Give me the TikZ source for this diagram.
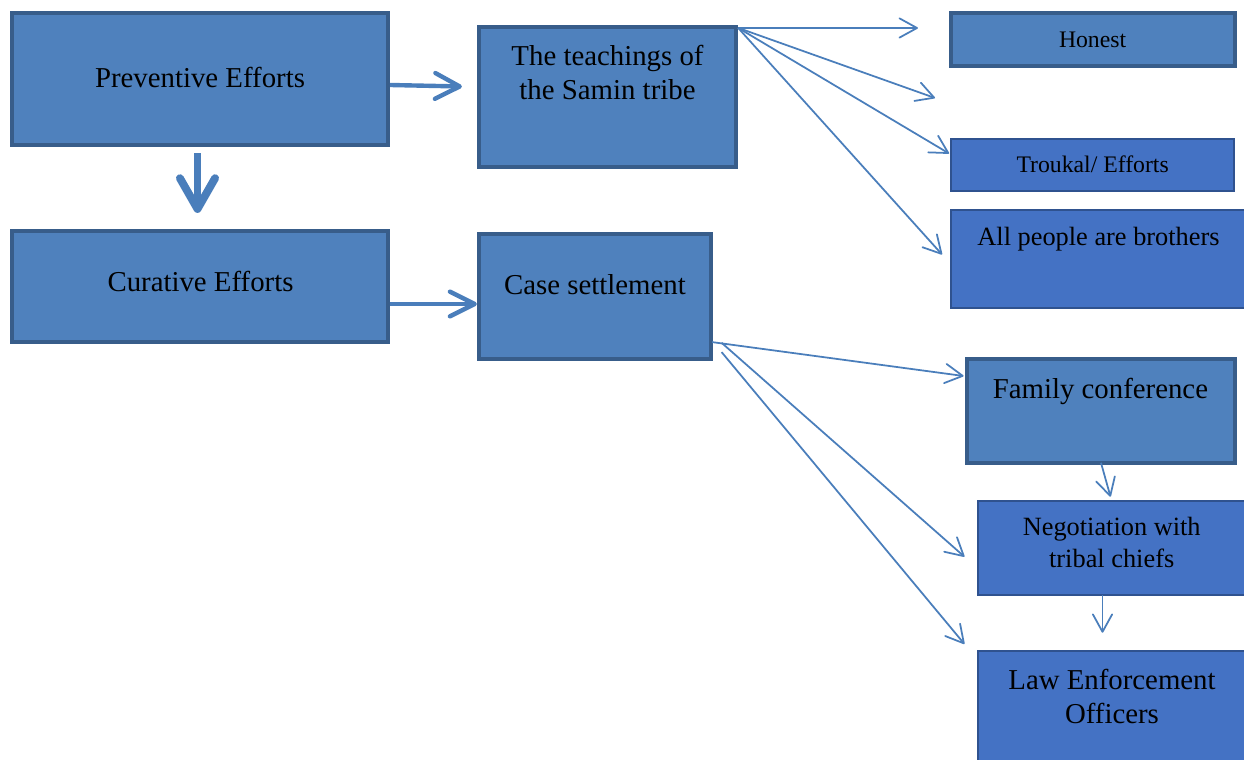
\documentclass[tikz,border=0pt]{standalone}
\usepackage{fontspec}
\setmainfont{Liberation Serif}
\usetikzlibrary{arrows.meta,fit,calc}
\definecolor{boxfill}{HTML}{4F81BD}
\definecolor{boxedge}{HTML}{385D8A}
\definecolor{boxfillb}{HTML}{4472C4}
\definecolor{boxedgeb}{HTML}{2F528F}
\definecolor{linkcol}{HTML}{4A7EBB}
\tikzset{
    heavybox/.style={draw=boxedge, fill=boxfill, line width=2.4pt, inner sep=0pt},
    lightbox/.style={draw=boxedgeb, fill=boxfillb, line width=1.1pt, inner sep=0pt},
    bigtxt/.style={anchor=base, align=center, inner sep=0pt, font=\fontsize{16.4}{19.4}\selectfont},
    midtxt/.style={anchor=base, align=center, inner sep=0pt, font=\fontsize{15}{17.9}\selectfont},
    smalltxt/.style={anchor=base, align=center, inner sep=0pt, font=\fontsize{13.5}{16}\selectfont},
    thinlink/.style={draw=linkcol, line width=1pt, -{Straight Barb[length=10pt,width=11pt,round]}},
}

\begin{document}
\begin{tikzpicture}[x=0.02cm, y=-0.02cm]
\clip (0,0) rectangle (1244,760);
% left column
\node[heavybox, fit={(12,13) (388,145)}] (prev) {};
\node[heavybox, fit={(12,231) (388,342)}] (cur) {};
\node[bigtxt] (prev-t) at (200,87.3) {Preventive Efforts};
\node[bigtxt] (cur-t) at (200.5,292) {Curative Efforts};
% middle column
\node[heavybox, fit={(479,27) (736,167)}] (teach) {};
\node[heavybox, fit={(479,234) (711,359)}] (case) {};
\node[bigtxt] (teach-t) at (607.5,100) {The teachings of\\the Samin tribe};
\node[bigtxt] (case-t) at (595,295) {Case settlement};
% right column
\node[heavybox, fit={(951,13) (1235,66)}] (honest) {};
\node[lightbox, fit={(951,139) (1234,191)}] (trk) {};
\node[lightbox, fit={(951,210) (1260,308)}] (all) {};
\node[heavybox, fit={(967,359) (1235,463)}] (fam) {};
\node[lightbox, fit={(978,501) (1260,595)}] (neg) {};
\node[lightbox, fit={(978,651) (1260,790)}] (law) {};
\node[smalltxt] (honest-t) at (1092.6,47.3) {Honest};
\node[smalltxt] (trk-t) at (1092.6,172.7) {Troukal/ Efforts};
\node[midtxt] (all-t) at (1098.5,246) {All people are brothers};
\node[bigtxt] (fam-t) at (1100.4,398.3) {Family conference};
\node[midtxt] (neg-t) at (1111.7,567.3) {Negotiation with\\tribal chiefs};
\node[bigtxt] (law-t) at (1112,723.3) {Law Enforcement\\Officers};
% fat arrows
\draw[draw=linkcol, line width=2.5pt, -{Straight Barb[length=14pt,width=14.7pt,round]}]
    ($(prev.east)+(0,6)$) -- ($(teach.west)+(-15,-10.5)$);
\draw[draw=linkcol, line width=4.5pt, -{Straight Barb[length=17.5pt,width=20pt,round]}]
    ($(prev.south)+(-2.5,6)$) -- ($(cur.north)+(-2.5,-16)$);
\draw[draw=linkcol, line width=2.6pt, -{Straight Barb[length=14pt,width=14pt,round]}]
    ($(cur.east)+(0,17.5)$) -- ($(case.west)+(0,7.5)$);
% fan out of the teachings
\coordinate (tipb) at (935,98);
\draw[thinlink] ($(teach.north east)+(0,3)$) -- ($(honest.west)+(-31,-11.5)$);
\draw[thinlink] ($(teach.north east)+(0,3)$) -- (tipb);
\draw[thinlink] ($(teach.north east)+(0,3)$) -- ($(trk.west)+(-1,-11.5)$);
\draw[thinlink] ($(teach.north east)+(0,3)$) -- ($(all.west)+(-8,-4.5)$);
% fan out of the case settlement
\draw[thinlink] ($(case.south east)+(-1,-19)$) -- ($(fam.west)+(-1.3,-35)$);
\draw[thinlink] ($(case.south east)+(8.5,-18.3)$) -- ($(neg.west)+(-12.6,8.7)$);
\draw[thinlink] ($(case.south east)+(8.5,-9)$) -- ($(law.north west)+(-12.6,-6)$);
\draw[thinlink] ($(fam.south)+(0,-2.3)$) -- ($(neg.north)+(-8.5,-3.3)$);
\draw[thinlink] ($(neg.south)+(-16.5,-1)$) -- ($(law.north)+(-16.5,-17.3)$);
\end{tikzpicture}
\end{document}
